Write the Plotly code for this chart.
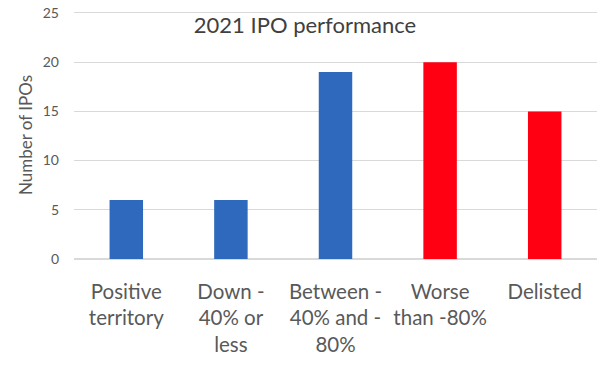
import plotly.graph_objects as go

categories = ["Positive<br>territory", "Down -<br>40% or<br>less", "Between -<br>40% and -<br>80%", "Worse<br>than -80%", "Delisted"]
values = [6, 6, 19, 20, 15]
colors = ["#2F69BE", "#2F69BE", "#2F69BE", "#FF0013", "#FF0013"]

font = "Lato, Open Sans, sans-serif"
fig = go.Figure(go.Bar(x=categories, y=values, marker=dict(color=colors, line=dict(width=0))))
fig.update_layout(
    width=612, height=374,
    margin=dict(l=74, r=15, t=11, b=115),
    plot_bgcolor="white", paper_bgcolor="white",
    bargap=0.68,
    showlegend=False,
    title=dict(text="2021 IPO performance", x=305/612, xanchor="center", y=1 - 25/374, yanchor="middle",
               font=dict(family=font, size=22, color="#404040")),
    font=dict(family=font, color="#595959"),
)
fig.update_yaxes(range=[0, 25.2], tickvals=[0, 5, 10, 15, 20, 25], showgrid=True, gridcolor="#D9D9D9", gridwidth=1,
                 zeroline=True, zerolinecolor="#D9D9D9", showline=False, automargin=False,
                 ticklabeloverflow="allow",
                 tickfont=dict(size=14, color="#595959"), ticks="", ticklabelstandoff=14,
                 title=dict(text="Number of IPOs", font=dict(size=17, color="#595959"), standoff=5))
fig.update_xaxes(tickfont=dict(size=20.5, color="#595959"), showline=False, ticks="", automargin=False,
                 ticklabeloverflow="allow", ticklabelstandoff=18)
fig.write_html("out.html", config={"displayModeBar": False},
               post_script="document.body.style.margin='0';")
